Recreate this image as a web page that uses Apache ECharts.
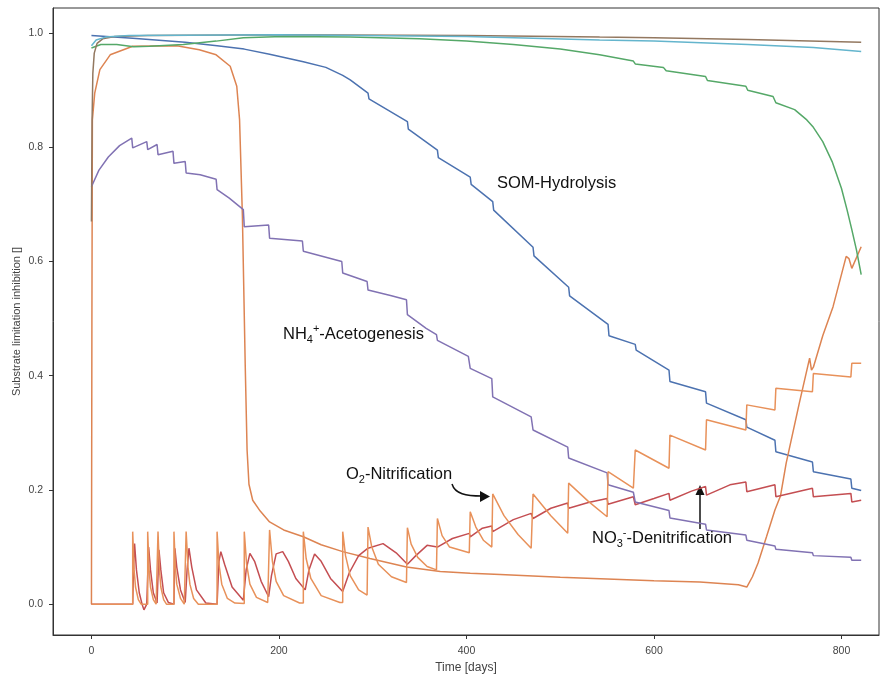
<!DOCTYPE html>
<html>
<head>
<meta charset="utf-8">
<title>Substrate limitation inhibition</title>
<script src="https://cdn.jsdelivr.net/npm/echarts@6.0.0/dist/echarts.min.js"></script>
<style>
  html, body { margin: 0; padding: 0; background: #fff; }
  #main { width: 889px; height: 679px; }
</style>
</head>
<body>
<div id="main"></div>
<script>
// tick labels
const xTicks = [0, 200, 400, 600, 800];
const yTicks = [0, 0.2, 0.4, 0.6, 0.8, 1.0];

// [day, value]
const somHydrolysis = [
  [0, 0.996], [44, 0.991], [100, 0.984], [134, 0.978], [163, 0.972], [190, 0.963], [226, 0.950],
  [250, 0.940], [268, 0.926], [276, 0.918], [295, 0.895], [296, 0.885], [337, 0.845], [338, 0.832],
  [369, 0.795], [370, 0.782], [404, 0.748], [405, 0.735], [428, 0.705], [429, 0.690], [471, 0.625],
  [472, 0.610], [509, 0.555], [510, 0.540], [551, 0.490], [552, 0.470], [580, 0.455], [581, 0.445],
  [616, 0.410], [617, 0.390], [655, 0.372], [656, 0.352], [698, 0.323], [699, 0.310], [729, 0.287],
  [730, 0.267], [769, 0.249], [770, 0.232], [810, 0.219], [811, 0.203], [821, 0.199]
];

const nh4Acetogenesis = [
  [0, 0.731], [8, 0.760], [18, 0.783], [30, 0.803], [43, 0.816], [44, 0.799], [59, 0.810], [60, 0.796],
  [70, 0.805], [71, 0.787], [87, 0.793], [88, 0.772], [100, 0.775], [101, 0.755], [116, 0.752],
  [133, 0.744], [134, 0.726], [147, 0.711], [162, 0.691], [163, 0.661], [189, 0.664], [190, 0.641],
  [225, 0.636], [226, 0.618], [267, 0.600], [268, 0.580], [294, 0.565], [295, 0.550], [320, 0.540],
  [336, 0.533], [337, 0.507], [357, 0.483], [368, 0.472], [369, 0.462], [402, 0.434], [404, 0.413],
  [427, 0.395], [428, 0.363], [469, 0.328], [471, 0.305], [508, 0.275], [509, 0.256], [550, 0.230],
  [551, 0.209], [578, 0.196], [580, 0.179], [616, 0.164], [617, 0.151], [655, 0.140], [656, 0.130],
  [698, 0.121], [699, 0.112], [729, 0.102], [730, 0.096], [769, 0.090], [770, 0.085], [810, 0.082],
  [811, 0.077], [821, 0.077]
];

// big orange curve (no label)
const o2Limit = [
  [0, 0], [0.5, 0.5], [1, 0.848], [3.5, 0.895], [9, 0.936], [20, 0.962], [44, 0.977], [91, 0.978],
  [115, 0.971], [133, 0.962], [148, 0.942], [155, 0.907], [158, 0.848], [161, 0.680], [164, 0.420],
  [166, 0.270], [168, 0.210], [172, 0.182], [180, 0.163], [190, 0.144], [205, 0.130], [226, 0.118],
  [245, 0.104], [268, 0.092], [297, 0.080], [336, 0.065], [372, 0.057], [404, 0.054], [436, 0.052],
  [500, 0.047], [550, 0.044], [600, 0.041], [649, 0.039], [690, 0.034], [699, 0.030], [705, 0.048],
  [711, 0.072], [720, 0.118], [729, 0.165], [731, 0.162], [735, 0.190], [741, 0.247], [755, 0.352],
  [766, 0.431], [768, 0.410], [770, 0.415], [780, 0.470], [791, 0.521], [805, 0.609], [808, 0.605],
  [811, 0.588], [821, 0.626]
];

const o2Nitrification = [
  [0, 0], [44, 0], [44, 0.127], [45.5, 0.06], [47, 0.03], [50, 0.008], [53, 0],
  [60, 0], [60, 0.127], [61.5, 0.06], [63, 0.03], [66, 0.008], [69, 0],
  [71, 0], [71, 0.127], [72.5, 0.06], [74, 0.03], [77, 0.008], [80, 0],
  [88, 0], [88, 0.127], [89.5, 0.065], [91, 0.035], [95, 0.01], [99, 0],
  [101, 0], [101, 0.127], [103, 0.065], [105, 0.035], [109, 0.01], [114, 0],
  [134, 0], [134, 0.127], [136, 0.07], [139, 0.035], [145, 0.01], [153, 0.002],
  [163, 0.001], [163, 0.127], [165.5, 0.07], [169, 0.035], [176, 0.012], [188, 0.003],
  [190, 0.003], [190, 0.130], [193, 0.075], [197, 0.04], [205, 0.015], [222, 0.002],
  [226, 0.002], [226, 0.127], [229, 0.08], [234, 0.045], [245, 0.015], [265, 0.003],
  [268, 0.003], [268, 0.127], [271, 0.085], [276, 0.05], [285, 0.025], [294, 0.016],
  [295, 0.016], [295, 0.135], [299, 0.10], [306, 0.07], [320, 0.048], [336, 0.038],
  [337, 0.038], [337, 0.134], [341, 0.105], [348, 0.082], [358, 0.066], [368, 0.060],
  [369, 0.060], [369, 0.150], [374, 0.12], [382, 0.10], [403, 0.09],
  [404, 0.090], [404, 0.162], [410, 0.135], [418, 0.112], [427, 0.100],
  [428, 0.100], [428, 0.193], [440, 0.155], [455, 0.122], [469, 0.098],
  [471, 0.098], [471, 0.193], [490, 0.155], [508, 0.124],
  [509, 0.124], [509, 0.212], [530, 0.180], [550, 0.153],
  [551, 0.153], [551, 0.232], [578, 0.203],
  [580, 0.203], [580, 0.270], [616, 0.238],
  [617, 0.238], [617, 0.296], [655, 0.270],
  [656, 0.270], [656, 0.323], [698, 0.305],
  [699, 0.305], [699, 0.349], [729, 0.340],
  [730, 0.340], [730, 0.378], [769, 0.372],
  [770, 0.372], [770, 0.404], [810, 0.398],
  [811, 0.398], [811, 0.422], [821, 0.422]
];

const no3Denitrification = [
  [0, 0], [44, 0], [45, 0.07], [46, 0.106], [48, 0.06], [51, 0.02], [54, 0.0], [56, -0.01], [59, 0.0],
  [60, 0.0], [61, 0.10], [63, 0.06], [66, 0.02], [70, 0.002], [71, 0.0], [72, 0.095], [74, 0.06],
  [77, 0.02], [82, 0.003], [88, 0.0], [89, 0.098], [91, 0.065], [95, 0.025], [100, 0.003],
  [102, 0.06], [104, 0.098], [107, 0.065], [112, 0.025], [122, 0.002], [134, 0.0], [136, 0.075],
  [138, 0.092], [142, 0.07], [150, 0.03], [162, 0.007], [165, 0.06], [169, 0.089], [174, 0.075],
  [181, 0.04], [189, 0.013], [192, 0.05], [197, 0.088], [204, 0.092], [210, 0.075], [218, 0.045],
  [228, 0.025], [232, 0.06], [238, 0.088], [245, 0.075], [255, 0.045], [268, 0.022], [275, 0.055],
  [285, 0.085], [295, 0.098], [311, 0.106], [325, 0.09], [337, 0.07], [346, 0.085], [358, 0.103],
  [369, 0.10], [371, 0.097], [385, 0.115], [403, 0.124], [404, 0.118], [417, 0.133], [427, 0.137],
  [428, 0.127], [450, 0.148], [469, 0.159], [471, 0.150], [490, 0.168], [508, 0.177], [509, 0.168],
  [530, 0.178], [550, 0.185], [551, 0.175], [578, 0.188], [580, 0.174], [600, 0.185], [616, 0.194],
  [617, 0.182], [640, 0.198], [655, 0.206], [656, 0.191], [681, 0.209], [698, 0.214], [699, 0.197],
  [729, 0.209], [730, 0.188], [769, 0.203], [770, 0.188], [810, 0.194], [811, 0.179], [821, 0.182]
];

const greenLine = [
  [0, 0.974], [10, 0.980], [27, 0.980], [45, 0.976], [62, 0.977], [98, 0.980], [133, 0.986],
  [162, 0.992], [204, 0.994], [276, 0.993], [350, 0.990], [400, 0.986], [450, 0.980], [500, 0.972],
  [542, 0.962], [578, 0.951], [580, 0.946], [610, 0.940], [613, 0.934], [655, 0.924], [657, 0.917],
  [698, 0.907], [700, 0.900], [727, 0.889], [730, 0.878], [750, 0.866], [763, 0.848], [770, 0.835],
  [780, 0.810], [790, 0.775], [800, 0.728], [806, 0.690], [811, 0.656], [816, 0.620], [821, 0.577]
];

const brownLine = [
  [0, 0.67], [0.7, 0.85], [1.5, 0.93], [3, 0.965], [6, 0.982], [12, 0.990], [25, 0.994], [60, 0.996],
  [200, 0.997], [400, 0.996], [542, 0.993], [600, 0.992], [700, 0.989], [821, 0.984]
];

const cyanLine = [
  [0, 0.978], [5, 0.988], [15, 0.993], [40, 0.996], [200, 0.997], [400, 0.994], [542, 0.988],
  [600, 0.986], [700, 0.980], [770, 0.975], [821, 0.968]
];

const FONT = 'Liberation Sans, Arial, sans-serif';
var chart = echarts.init(document.getElementById('main'), null, { renderer: 'canvas' });

function line(name, data, color) {
  return {
    name: name,
    type: 'line',
    data: data,
    showSymbol: false,
    symbol: 'none',
    animation: false,
    silent: true,
    lineStyle: { color: color, width: 1.5 },
    itemStyle: { color: color }
  };
}

// rich text styles for the labels
const rich = {
  m: { fontSize: 16.5, lineHeight: 22, color: '#111', fontFamily: FONT },
  s: { fontSize: 11, lineHeight: 11, color: '#111', fontFamily: FONT, verticalAlign: 'bottom' },
  u: { fontSize: 11, lineHeight: 11, color: '#111', fontFamily: FONT, verticalAlign: 'top' }
};

function label(text, left, top) {
  return {
    text: text,
    left: left,
    top: top,
    padding: 0,
    textStyle: { fontWeight: 'normal', rich: rich }
  };
}

chart.setOption({
  backgroundColor: '#fff',
  animation: false,
  title: [
    label('{m|SOM-Hydrolysis}', 497, 172),
    label('{m|NH}{s|4}{u|+}{m|-Acetogenesis}', 283, 323),
    label('{m|O}{s|2}{m|-Nitrification}', 346, 463),
    label('{m|NO}{s|3}{u|-}{m|-Denitrification}', 592, 527)
  ],
  grid: {
    left: 53,
    right: 10,
    top: 8,
    bottom: 44,
    containLabel: false,
    outerBoundsMode: 'none',
    show: true,
    borderColor: '#333',
    borderWidth: 1
  },
  xAxis: {
    type: 'value',
    min: -41,
    max: 840,
    name: 'Time [days]',
    nameLocation: 'middle',
    nameGap: 27,
    nameMoveOverlap: false,
    nameTextStyle: { fontSize: 12, color: '#444', fontFamily: FONT },
    axisLine: { show: true, onZero: false, lineStyle: { color: '#333', width: 1 } },
    axisTick: { show: true, length: 4, lineStyle: { color: '#333' }, customValues: xTicks },
    axisLabel: { fontSize: 10.5, color: '#444', fontFamily: FONT, margin: 11, customValues: xTicks },
    splitLine: { show: false }
  },
  yAxis: {
    type: 'value',
    min: -0.054,
    max: 1.044,
    name: 'Substrate limitation inhibition []',
    nameLocation: 'middle',
    nameGap: 31,
    nameMoveOverlap: false,
    nameTextStyle: { fontSize: 11, color: '#444', fontFamily: FONT },
    axisLine: { show: true, onZero: false, lineStyle: { color: '#333', width: 1 } },
    axisTick: { show: true, length: 4, lineStyle: { color: '#333' }, customValues: yTicks },
    axisLabel: {
      fontSize: 10.5, color: '#444', fontFamily: FONT, margin: 10, customValues: yTicks,
      formatter: function (v) { return v.toFixed(1); }
    },
    splitLine: { show: false }
  },
  series: [
    line('SOM-Hydrolysis', somHydrolysis, '#4c72b0'),
    line('O2 limitation', o2Limit, '#dd8452'),
    line('green', greenLine, '#55a868'),
    line('NO3-Denitrification', no3Denitrification, '#c44e52'),
    line('NH4+-Acetogenesis', nh4Acetogenesis, '#8172b3'),
    line('brown', brownLine, '#937860'),
    line('cyan', cyanLine, '#64b5cd'),
    line('O2-Nitrification', o2Nitrification, '#e8915a')
  ],
  graphic: [
    // curved arrow to the nitrification peak
    {
      type: 'bezierCurve',
      shape: { x1: 452, y1: 484, cpx1: 455, cpy1: 494, cpx2: 466, cpy2: 496, x2: 482, y2: 496 },
      style: { stroke: '#111', lineWidth: 1.5, fill: null }
    },
    { type: 'polygon', shape: { points: [[490, 496.5], [480, 491], [480, 502]] }, style: { fill: '#111' } },
    // straight arrow to denitrification
    { type: 'line', shape: { x1: 700, y1: 529, x2: 700, y2: 493 }, style: { stroke: '#111', lineWidth: 1.5 } },
    { type: 'polygon', shape: { points: [[700, 485], [695.5, 495], [704.5, 495]] }, style: { fill: '#111' } }
  ]
});
</script>
</body>
</html>
